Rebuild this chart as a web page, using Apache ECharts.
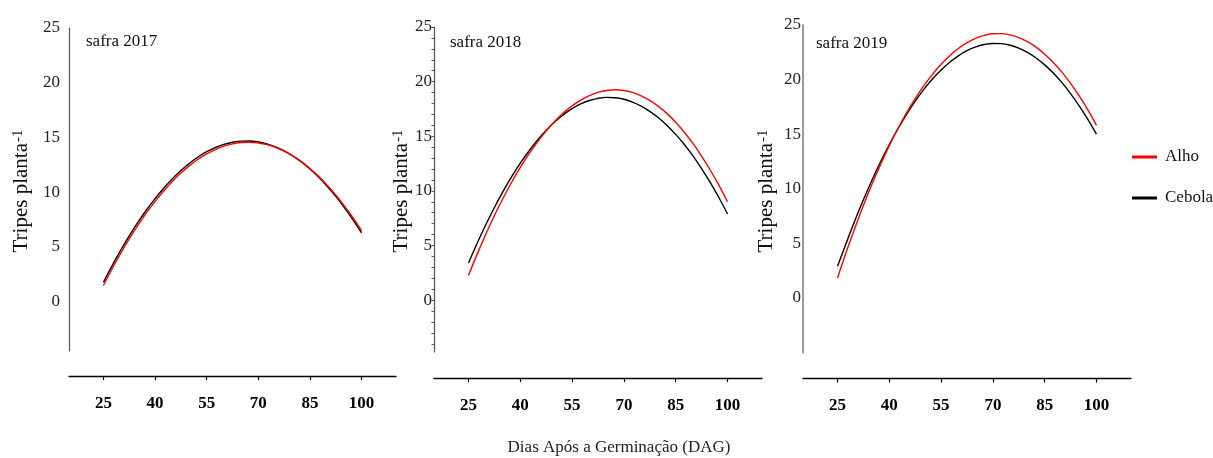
<!DOCTYPE html>
<html>
<head>
<meta charset="utf-8">
<script src="https://cdn.jsdelivr.net/npm/echarts@6/dist/echarts.min.js"></script>
<style>
  html, body { margin: 0; padding: 0; background: #fff; }
  #chart { width: 1213px; height: 458px; }
</style>
</head>
<body>
<div id="chart"></div>
<script>
// ---- data ----
const days = [25, 27.5, 30, 32.5, 35, 37.5, 40, 42.5, 45, 47.5, 50, 52.5, 55, 57.5, 60, 62.5,
              65, 67.5, 70, 72.5, 75, 77.5, 80, 82.5, 85, 87.5, 90, 92.5, 95, 97.5, 100];

const alho2017   = [1.48, 2.99, 4.41, 5.74, 6.97, 8.11, 9.16, 10.12, 10.98, 11.75, 12.43, 13.01, 13.50, 13.90, 14.21, 14.42,
                    14.54, 14.57, 14.50, 14.35, 14.10, 13.75, 13.32, 12.79, 12.17, 11.45, 10.65, 9.75, 8.75, 7.67, 6.49];
const cebola2017 = [1.77, 3.28, 4.70, 6.02, 7.25, 8.38, 9.42, 10.37, 11.22, 11.98, 12.65, 13.22, 13.70, 14.08, 14.37, 14.57,
                    14.67, 14.68, 14.60, 14.42, 14.15, 13.78, 13.32, 12.77, 12.12, 11.38, 10.55, 9.62, 8.60, 7.48, 6.30];

const alho2018   = [2.27, 4.21, 6.03, 7.74, 9.32, 10.79, 12.14, 13.38, 14.49, 15.49, 16.37, 17.14, 17.78, 18.31, 18.72, 19.02,
                    19.19, 19.25, 19.19, 19.01, 18.70, 18.28, 17.73, 17.07, 16.28, 15.37, 14.34, 13.19, 11.91, 10.52, 9.00];
const cebola2018 = [3.40, 5.21, 6.90, 8.48, 9.95, 11.30, 12.53, 13.65, 14.66, 15.55, 16.32, 16.98, 17.53, 17.96, 18.27, 18.47,
                    18.56, 18.53, 18.39, 18.13, 17.76, 17.28, 16.69, 15.99, 15.17, 14.24, 13.20, 12.04, 10.77, 9.39, 7.90];

const alho2019   = [1.84, 4.18, 6.39, 8.48, 10.43, 12.26, 13.95, 15.52, 16.95, 18.26, 19.44, 20.48, 21.40, 22.19, 22.85, 23.38,
                    23.78, 24.05, 24.20, 24.21, 24.09, 23.85, 23.47, 22.97, 22.33, 21.57, 20.68, 19.66, 18.50, 17.22, 15.81];
const cebola2019 = [2.90, 5.02, 7.07, 9.00, 10.81, 12.50, 14.06, 15.50, 16.82, 18.02, 19.10, 20.05, 20.88, 21.59, 22.18, 22.65,
                    22.99, 23.21, 23.31, 23.29, 23.15, 22.88, 22.49, 21.98, 21.35, 20.60, 19.72, 18.72, 17.60, 16.36, 15.00];

const xTickValues = [25, 40, 55, 70, 85, 100];
const yTickValues = [0, 5, 10, 15, 20, 25];
const panelTitles = ['safra 2017', 'safra 2018', 'safra 2019'];
const seriesNames = ['Alho', 'Cebola'];
const yAxisName = 'Tripes planta';
const yAxisNameSup = '-1';
const xAxisName = 'Dias Após a Germinação (DAG)';

// ---- chart ----
const FONT = '"Liberation Serif", "Times New Roman", serif';
const toPairs = (vals) => vals.map((v, i) => [days[i], v]);
const panels = [
  { alho: alho2017, cebola: cebola2017 },
  { alho: alho2018, cebola: cebola2018 },
  { alho: alho2019, cebola: cebola2019 }
];

const grids = [
  { left: 69,  top: 28, width: 327, height: 323 },
  { left: 434, top: 27, width: 328, height: 325 },
  { left: 803, top: 25, width: 328, height: 327.6 }
];
const yMins = [-4.5, -4.75, -5];
const xOffsets = [25, 26, 26];
const yLabelMargins = [9, 2, 2];
const yLineStyles = [
  { color: '#555', width: 1.2 },
  { color: '#555', width: 1.2 },
  { color: '#9a9a9a', width: 2 }
];
const minorTickValues = [];
for (let v = -4; v <= 25; v++) minorTickValues.push(v);

const xAxes = grids.map((g, i) => ({
  type: 'value', gridIndex: i, min: 15, max: 110,
  offset: xOffsets[i],
  axisLine: { show: true, onZero: false, lineStyle: { color: '#000', width: 1.3 } },
  axisTick: { show: true, customValues: xTickValues, length: 4, lineStyle: { color: '#000', width: 1.2 } },
  axisLabel: {
    customValues: xTickValues, margin: 19,
    fontFamily: FONT, fontWeight: 'bold', fontSize: 17, color: '#000'
  },
  splitLine: { show: false }
}));

const yAxes = grids.map((g, i) => ({
  type: 'value', gridIndex: i, min: yMins[i], max: 25,
  axisLine: { show: true, onZero: false, lineStyle: yLineStyles[i] },
  axisTick: i === 1
    ? { show: true, customValues: minorTickValues, length: 2.5, lineStyle: { color: '#555', width: 1 } }
    : { show: false },
  axisLabel: {
    customValues: yTickValues, margin: yLabelMargins[i],
    fontFamily: FONT, fontSize: 17, color: '#222'
  },
  splitLine: { show: false }
}));

const series = [];
panels.forEach((p, i) => {
  series.push({
    name: seriesNames[1], type: 'line', xAxisIndex: i, yAxisIndex: i,
    data: toPairs(p.cebola), smooth: 0.4, showSymbol: false, symbol: 'none',
    lineStyle: { color: '#000', width: 1.4 }, itemStyle: { color: '#000' }, z: 2
  });
  series.push({
    name: seriesNames[0], type: 'line', xAxisIndex: i, yAxisIndex: i,
    data: toPairs(p.alho), smooth: 0.4, showSymbol: false, symbol: 'none',
    lineStyle: { color: '#ff0000', width: 1.4 }, itemStyle: { color: '#ff0000' }, z: 3
  });
});

const titleX = [86, 450, 816];
const titleY = [42, 43, 44];
const nameX = [21.5, 401.5, 766.5];
const supX = [18, 398, 763];
const graphic = [];
panelTitles.forEach((t, i) => {
  graphic.push({
    type: 'text', x: titleX[i], y: titleY[i],
    style: { text: t, fontFamily: FONT, fontSize: 17, fill: '#111',
             align: 'left', verticalAlign: 'middle', textAlign: 'left', textVerticalAlign: 'middle' }
  });
  graphic.push({
    type: 'text', x: nameX[i], y: 143, rotation: Math.PI / 2,
    style: { text: yAxisName, fontFamily: FONT, fontSize: 21, fill: '#111',
             align: 'right', verticalAlign: 'middle', textAlign: 'right', textVerticalAlign: 'middle' }
  });
  graphic.push({
    type: 'text', x: supX[i], y: 142, rotation: Math.PI / 2,
    style: { text: yAxisNameSup, fontFamily: FONT, fontSize: 15, fill: '#111',
             align: 'left', verticalAlign: 'middle', textAlign: 'left', textVerticalAlign: 'middle' }
  });
});
graphic.push({
  type: 'text', x: 619, y: 448,
  style: { text: xAxisName, fontFamily: FONT, fontSize: 17, fill: '#222',
           align: 'center', verticalAlign: 'middle', textAlign: 'center', textVerticalAlign: 'middle' }
});

const chart = echarts.init(document.getElementById('chart'), null, { renderer: 'canvas' });
chart.setOption({
  animation: false,
  backgroundColor: '#fff',
  grid: grids,
  xAxis: xAxes,
  yAxis: yAxes,
  legend: {
    data: seriesNames, orient: 'vertical', left: 1132, top: 147, padding: 0,
    icon: 'rect', itemWidth: 25, itemHeight: 3, itemGap: 21,
    textStyle: { fontFamily: FONT, fontSize: 17, color: '#111', lineHeight: 20, padding: [0, 0, 0, 3] }
  },
  series: series,
  graphic: graphic
});
</script>
</body>
</html>
